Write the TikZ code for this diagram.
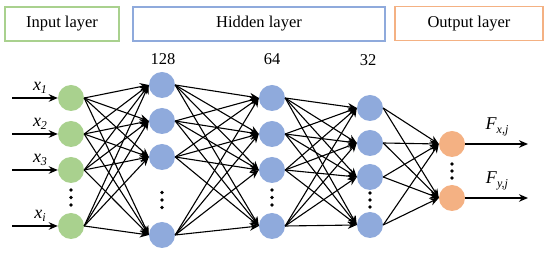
\documentclass[tikz,border=0pt]{standalone}
\usepackage{fontspec}
\setmainfont{Liberation Serif}
\usetikzlibrary{arrows.meta}
\definecolor{ingreen}{HTML}{A9D18E}
\definecolor{hidblue}{HTML}{8FAADC}
\definecolor{outorange}{HTML}{F4B183}
\newcommand{\lblsub}[2]{\textit{#1}\raisebox{-0.45ex}{\fontsize{12}{12}\selectfont\itshape #2}}
\begin{document}
\begin{tikzpicture}[x=1pt,y=-1pt,
  neuron/.style={circle,minimum size=26pt,inner sep=0pt,draw=none},
  inneuron/.style={neuron,fill=ingreen},
  hidneuron/.style={neuron,fill=hidblue},
  outneuron/.style={neuron,fill=outorange},
  lbox/.style={draw,line width=1.3pt,minimum height=34pt,inner sep=0pt,font=\fontsize{16.5}{18}\selectfont},
  toplabel/.style={font=\fontsize{16.5}{18}\selectfont,inner sep=0pt},
  varlabel/.style={font=\fontsize{18}{20}\selectfont,inner sep=0pt},
  conn/.style={-{Stealth[length=9pt,width=7.5pt]},line width=1.1pt},
  ioarrow/.style={-{Stealth[length=9pt,width=7.5pt]},line width=1.7pt},
  dotmark/.style={circle,fill=black,minimum size=3.8pt,inner sep=0pt}
]
\path[use as bounding box] (0,0) rectangle (550,253);

% header boxes
\node[lbox,draw=ingreen,minimum width=114pt] (bin) at (62,24) {Input layer};
\node[lbox,draw=hidblue,minimum width=252pt] (bhid) at (259,24) {Hidden layer};
\node[lbox,draw=outorange,minimum width=148pt] (bout) at (469,23.5) {Output layer};

% layer size labels
\node[toplabel] (n128) at (163,59) {128};
\node[toplabel] (n64) at (272,59) {64};
\node[toplabel] (n32) at (368,60) {32};

% input layer
\node[inneuron] (i1) at (71,98) {};
\node[inneuron] (i2) at (71,134) {};
\node[inneuron] (i3) at (71,170) {};
\node[inneuron] (i4) at (71,226) {};
% hidden 1
\node[hidneuron] (a1) at (162,85) {};
\node[hidneuron] (a2) at (162,121) {};
\node[hidneuron] (a3) at (162,157) {};
\node[hidneuron] (a4) at (162,235) {};
% hidden 2
\node[hidneuron] (b1) at (272,98) {};
\node[hidneuron] (b2) at (272,134) {};
\node[hidneuron] (b3) at (272,170) {};
\node[hidneuron] (b4) at (272,226) {};
% hidden 3
\node[hidneuron] (c1) at (370,108) {};
\node[hidneuron] (c2) at (370,143) {};
\node[hidneuron] (c3) at (370,177) {};
\node[hidneuron] (c4) at (370,225) {};
% output
\node[outneuron] (o1) at (452,144) {};
\node[outneuron] (o2) at (452,198) {};

% vertical dots
\foreach \yy [count=\k] in {190,197.5,205} \node[dotmark] (di\k) at (71,\yy) {};
\foreach \yy [count=\k] in {192.5,200,207.5} \node[dotmark] (da\k) at (162,\yy) {};
\foreach \yy [count=\k] in {190,197.5,205} \node[dotmark] (db\k) at (272,\yy) {};
\foreach \yy [count=\k] in {193,200,207} \node[dotmark] (dc\k) at (370,\yy) {};
\foreach \yy [count=\k] in {164,171,178} \node[dotmark] (do\k) at (452,\yy) {};

% connections
\foreach \s in {1,...,4}{
  \foreach \t in {1,...,4}{
    \draw[conn] (i\s.east) -- (a\t.west);
    \draw[conn] (a\s.east) -- (b\t.west);
    \draw[conn] (b\s.east) -- (c\t.west);
  }
  \draw[conn] (c\s.east) -- (o1.west);
  \draw[conn] (c\s.east) -- (o2.west);
}

% input arrows
\coordinate (s1) at (12,98);
\coordinate (s2) at (12,134);
\coordinate (s3) at (12,170);
\coordinate (s4) at (12,226);
\foreach \k in {1,...,4} \draw[ioarrow] (s\k) -- (i\k.west);
\node[varlabel] (lx1) at (40,88) {\lblsub{x}{1}};
\node[varlabel] (lx2) at (40,124) {\lblsub{x}{2}};
\node[varlabel] (lx3) at (40,160) {\lblsub{x}{3}};
\node[varlabel] (lxi) at (40,216) {\lblsub{x}{i}};

% output arrows
\coordinate (e1) at (528,144);
\coordinate (e2) at (528,198);
\draw[ioarrow] (o1.east) -- (e1);
\draw[ioarrow] (o2.east) -- (e2);
\node[varlabel] (lf1) at (497,127) {\lblsub{F}{x,j}};
\node[varlabel] (lf2) at (497,181) {\lblsub{F}{y,j}};
\end{tikzpicture}
\end{document}
